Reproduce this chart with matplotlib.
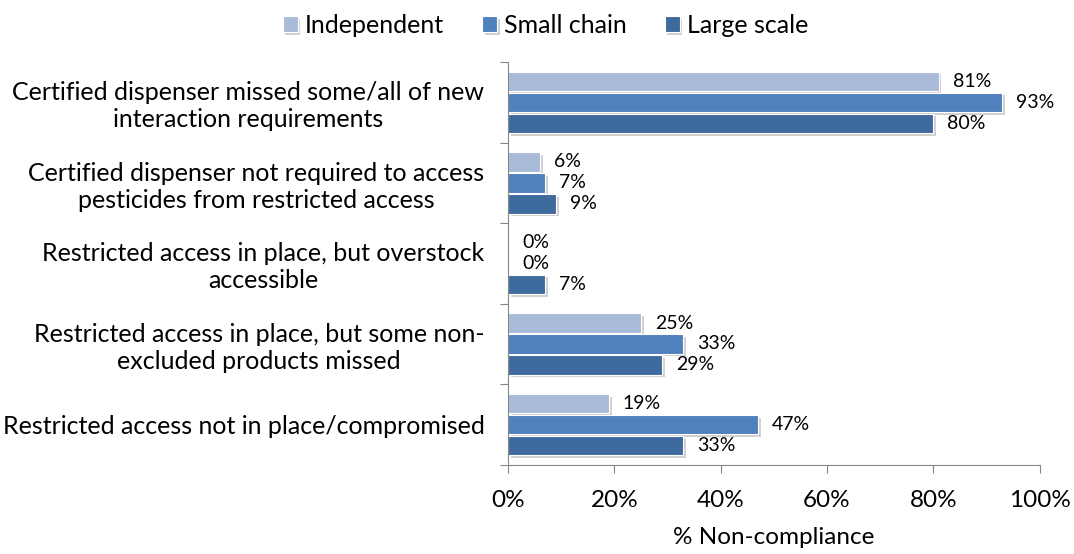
import matplotlib
matplotlib.use("Agg")
import matplotlib.pyplot as plt
import matplotlib.patheffects as pe
from matplotlib.ticker import FixedLocator, PercentFormatter
import numpy as np

# data (top to bottom)
categories = [
    "Certified dispenser missed some/all of new\ninteraction requirements",
    "Certified dispenser not required to access\npesticides from restricted access",
    "Restricted access in place, but overstock\naccessible",
    "Restricted access in place, but some non-\nexcluded products missed",
    "Restricted access not in place/compromised",
]
series = ["Independent", "Small chain", "Large scale"]
independent = [81, 6, 0, 25, 19]
small_chain = [93, 7, 0, 33, 47]
large_scale = [80, 9, 7, 29, 33]
colors = ["#AABBD9", "#4F81BD", "#3F6A9D"]

plt.rcParams["font.family"] = ["Lato", "DejaVu Sans"]

fig = plt.figure(figsize=(10.74, 5.54), dpi=100)
ax = fig.add_axes([0.473, 0.161, 0.495, 0.727])

y = np.arange(len(categories))
h = 0.26
shadow = [pe.SimplePatchShadow(offset=(2, -2), shadow_rgbFace="#999999", alpha=0.45), pe.Normal()]

for i, (name, vals) in enumerate(zip(series, [independent, small_chain, large_scale])):
    pos = y + (i - 1) * h
    bars = ax.barh(pos, vals, height=h * 0.93, color=colors[i], edgecolor="white",
                   linewidth=0.8, label=name)
    for b in bars:
        if b.get_width() > 0:
            b.set_path_effects(shadow)
    for p, v in zip(pos, vals):
        ax.annotate(f"{v}%", (v, p), xytext=(10, 0), textcoords="offset points",
                    va="center", ha="left", fontsize=14)

ax.set_xlim(0, 100)
ax.set_ylim(4.5, -0.5)
ax.xaxis.set_major_locator(FixedLocator([0, 20, 40, 60, 80, 100]))
ax.xaxis.set_major_formatter(PercentFormatter(decimals=0))
ax.set_xlabel("% Non-compliance", fontsize=17.5, labelpad=12)

ax.yaxis.set_major_locator(FixedLocator(np.arange(-0.5, 5, 1)))
ax.yaxis.set_major_formatter(plt.NullFormatter())
ax.yaxis.set_minor_locator(FixedLocator(y))
ax.set_yticklabels(categories, minor=True, fontsize=18)
for lbl in ax.get_yticklabels(minor=True):
    lbl.set_multialignment("center")
ax.tick_params(axis="y", which="minor", length=0, pad=17)
ax.tick_params(axis="y", which="major", length=6, color="#868686")
ax.tick_params(axis="x", length=6, color="#868686", labelsize=17.5, pad=12)

for s in ["top", "right"]:
    ax.spines[s].set_visible(False)
for s in ["left", "bottom"]:
    ax.spines[s].set_color("#868686")

fig.legend(loc="upper center", bbox_to_anchor=(0.508, 1.015), ncol=3, frameon=False,
           fontsize=18, handlelength=0.6, handleheight=0.6, handletextpad=0.3,
           columnspacing=1.5)

fig.savefig("out.png", dpi=100)
